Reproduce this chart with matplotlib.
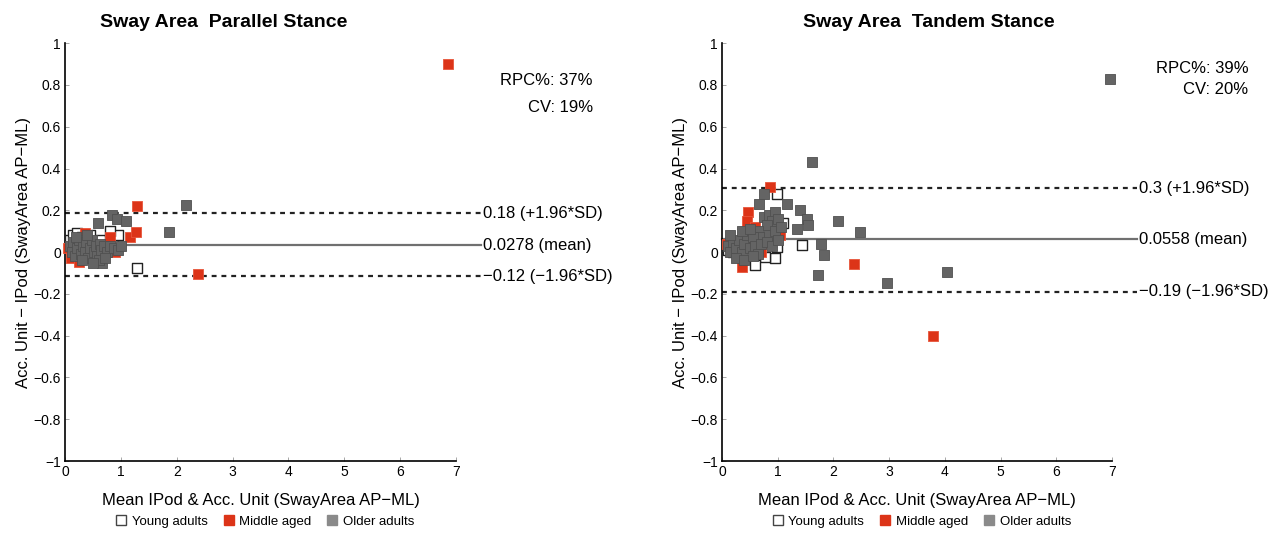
import numpy as np
import matplotlib
matplotlib.use("Agg")
import matplotlib.pyplot as plt
from matplotlib.lines import Line2D

plt.rcParams['font.family'] = ['Liberation Sans', 'DejaVu Sans']

# ---- data: parallel stance ----
par_young_x = [0.08, 0.15, 0.22, 0.30, 0.38, 0.45, 0.55, 0.62, 0.70, 0.85, 1.29, 0.12, 0.50, 0.95, 0.80]
par_young_y = [0.06, 0.08, 0.09, 0.07, 0.05, 0.08, 0.02, 0.06, 0.01, 0.04, -0.077, -0.02, -0.03, 0.08, 0.10]
par_mid_x = [0.80, 1.16, 1.27, 1.29, 2.38, 0.05, 0.10, 0.35, 0.60, 0.25, 0.90, 6.85]
par_mid_y = [0.072, 0.072, 0.096, 0.22, -0.105, 0.02, -0.03, 0.09, -0.04, -0.045, 0.0, 0.90]
par_old_x = [0.59, 0.84, 0.93, 1.09, 1.86, 2.16, 0.66,
             0.08, 0.12, 0.15, 0.18, 0.22, 0.25, 0.28, 0.32, 0.35, 0.38, 0.42, 0.45,
             0.48, 0.52, 0.55, 0.58, 0.62, 0.65, 0.70, 0.75, 0.80, 0.88, 0.95, 1.00,
             0.20, 0.40, 0.60, 0.30, 0.50, 0.72]
par_old_y = [0.14, 0.18, 0.16, 0.15, 0.096, 0.225, -0.05,
             0.03, 0.0, 0.05, -0.02, 0.02, 0.06, -0.01, 0.03, 0.0, 0.05, -0.03, 0.02,
             0.06, 0.0, 0.03, -0.02, 0.04, 0.01, 0.03, 0.0, 0.03, 0.02, 0.01, 0.03,
             0.07, 0.08, -0.04, -0.04, -0.05, -0.03]
par_lines = [0.186, 0.033, -0.115]
par_labels = ['0.18 (+1.96*SD)', '0.0278 (mean)', '\u22120.12 (\u22121.96*SD)']
par_stats = ['RPC%: 37%', 'CV: 19%']

# ---- data: tandem stance ----
tan_young_x = [0.99, 1.10, 1.44, 0.99, 0.95, 0.77, 0.59, 0.20, 0.35, 0.10, 0.50]
tan_young_y = [0.28, 0.14, 0.034, 0.024, -0.03, -0.025, -0.06, 0.0, -0.02, 0.01, 0.0]
tan_mid_x = [0.86, 0.47, 0.45, 0.59, 1.04, 0.36, 0.09, 2.37, 3.79, 0.55, 0.30, 0.70]
tan_mid_y = [0.31, 0.19, 0.15, 0.12, 0.08, -0.07, 0.04, -0.057, -0.40, 0.05, 0.03, 0.0]
tan_old_x = [0.76, 0.67, 1.17, 1.40, 1.52, 2.08, 1.35, 1.78, 1.83, 1.72, 1.62, 2.48, 2.96, 4.04, 6.97, 1.54,
             0.75, 0.85, 0.95, 0.90, 1.00, 0.80, 0.65, 0.70, 0.85, 0.95, 1.05,
             0.10, 0.15, 0.20, 0.25, 0.30, 0.35, 0.40, 0.45, 0.50, 0.55, 0.60, 0.65, 0.70,
             0.80, 0.90, 0.25, 0.40, 0.55, 0.15, 0.35, 0.50, 1.00]
tan_old_y = [0.28, 0.23, 0.23, 0.20, 0.16, 0.15, 0.11, 0.04, -0.014, -0.11, 0.43, 0.095, -0.15, -0.095, 0.83, 0.13,
             0.17, 0.18, 0.19, 0.15, 0.16, 0.13, 0.10, 0.07, 0.08, 0.10, 0.12,
             0.03, 0.0, 0.05, 0.02, 0.06, 0.0, 0.04, 0.08, 0.02, 0.07, 0.03, -0.01, 0.04,
             0.05, 0.03, -0.03, -0.04, -0.02, 0.08, 0.10, 0.11, 0.06]
tan_lines = [0.306, 0.062, -0.19]
tan_labels = ['0.3 (+1.96*SD)', '0.0558 (mean)', '\u22120.19 (\u22121.96*SD)']
tan_stats = ['RPC%: 39%', 'CV: 20%']

groups = ['Young adults', 'Middle aged', 'Older adults']
yticks = [-1, -0.8, -0.6, -0.4, -0.2, 0, 0.2, 0.4, 0.6, 0.8, 1]
ytick_labels = ['\u22121', '\u22120.8', '\u22120.6', '\u22120.4', '\u22120.2', '0',
                '0.2', '0.4', '0.6', '0.8', '1']
xticks = [0, 1, 2, 3, 4, 5, 6, 7]

RED = '#dc3418'
GREY = '#646464'


def bland_altman(ax, yx, yy, mx, my, ox, oy, lines, labels, stats, stats_y):
    ax.scatter(yx, yy, marker='s', s=50, facecolor='white', edgecolor='#222222', linewidth=1.0, zorder=3, clip_on=False)
    ax.scatter(mx, my, marker='s', s=50, facecolor=RED, edgecolor='#e8553a', linewidth=0.6, zorder=4, clip_on=False)
    ax.scatter(ox, oy, marker='s', s=50, facecolor=GREY, edgecolor='#505050', linewidth=0.6, zorder=5, clip_on=False)
    x_end = 7.45
    ax.plot([0, x_end], [lines[0]] * 2, color='#222222', ls=(0, (2.2, 2.2)), lw=1.6, clip_on=False, zorder=2)
    ax.plot([0, x_end], [lines[1]] * 2, color='#707070', ls='-', lw=1.6, clip_on=False, zorder=2)
    ax.plot([0, x_end], [lines[2]] * 2, color='#222222', ls=(0, (2.2, 2.2)), lw=1.6, clip_on=False, zorder=2)
    for v, t in zip(lines, labels):
        ax.text(x_end + 0.03, v, t, fontsize=12, va='center', ha='left', clip_on=False)
    ax.text(9.45, stats_y[0], stats[0], fontsize=12, ha='right', va='center', clip_on=False)
    ax.text(9.45, stats_y[1], stats[1], fontsize=12, ha='right', va='center', clip_on=False)
    ax.set_xlim(0, 7)
    ax.set_ylim(-1, 1)
    ax.set_xticks(xticks)
    ax.set_xticklabels([str(v) for v in xticks])
    ax.set_yticks(yticks)
    ax.set_yticklabels(ytick_labels)
    ax.tick_params(direction='in', length=3, width=0.6, labelsize=10, pad=3, color='#999999')
    for s in ['top', 'right']:
        ax.spines[s].set_visible(False)
    for s in ['left', 'bottom']:
        ax.spines[s].set_linewidth(1.2)
    ax.set_xlabel('Mean IPod & Acc. Unit (SwayArea AP\u2212ML)', fontsize=12, labelpad=10)
    ax.set_ylabel('Acc. Unit \u2212 IPod (SwayArea AP\u2212ML)', fontsize=12, labelpad=2)
    handles = [Line2D([], [], marker='s', ls='', ms=7, mfc='white', mec='#444444', mew=1.0),
               Line2D([], [], marker='s', ls='', ms=7, mfc=RED, mec=RED),
               Line2D([], [], marker='s', ls='', ms=7, mfc='#8a8a8a', mec='#8a8a8a')]
    ax.legend(handles, groups, loc='center', bbox_to_anchor=(0.51, -0.145), ncol=3, frameon=False,
              fontsize=9.5, handletextpad=0.3, columnspacing=1.1, handlelength=1.0, borderaxespad=0)


fig = plt.figure(figsize=(12.88, 5.33), dpi=100)
ax1 = fig.add_axes([0.0505, 0.135, 0.3035, 0.784])
ax2 = fig.add_axes([0.5606, 0.135, 0.3028, 0.784])

bland_altman(ax1, par_young_x, par_young_y, par_mid_x, par_mid_y, par_old_x, par_old_y,
             par_lines, par_labels, par_stats, [0.82, 0.69])
bland_altman(ax2, tan_young_x, tan_young_y, tan_mid_x, tan_mid_y, tan_old_x, tan_old_y,
             tan_lines, tan_labels, tan_stats, [0.88, 0.78])

fig.text(224 / 1288, 1 - 22 / 533, 'Sway Area  Parallel Stance', fontsize=14, fontweight='bold', ha='center', va='center')
fig.text(929 / 1288, 1 - 22 / 533, 'Sway Area  Tandem Stance', fontsize=14, fontweight='bold', ha='center', va='center')

fig.savefig('out.png', dpi=100)
